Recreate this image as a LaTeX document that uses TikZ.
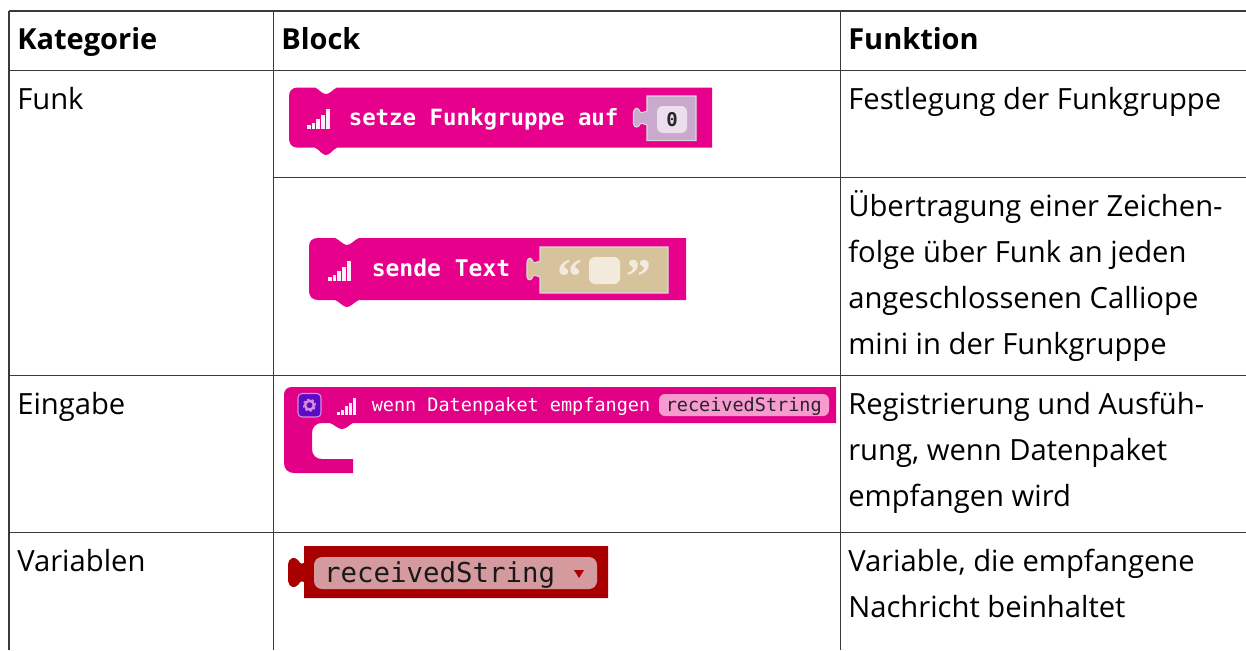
\documentclass[tikz,border=0pt]{standalone}
\usepackage{fontspec}
\setmainfont{Open Sans}
\newfontfamily\blockfont{DejaVu Sans Mono}
\newfontfamily\quotefont{Liberation Serif}
\newcommand{\pxsize}[2]{\fontsize{\dimexpr#1pt*3/4\relax}{\dimexpr#2pt*3/4\relax}\selectfont}
\definecolor{funk}{HTML}{E6008C}
\definecolor{funkb}{HTML}{E20087}
\definecolor{varred}{HTML}{A80000}
\definecolor{rule}{HTML}{3A3A3A}
\definecolor{numslot}{RGB}{201,169,205}
\definecolor{numfield}{RGB}{236,222,236}
\definecolor{txtslot}{RGB}{215,195,155}
\definecolor{txtfield}{RGB}{241,234,221}
\definecolor{gearbg}{RGB}{92,11,196}
\definecolor{gearfg}{RGB}{217,139,224}
\definecolor{pinkfield}{RGB}{247,154,208}
\definecolor{varfield}{RGB}{212,154,157}
\tikzset{
  x=0.75pt,y=-0.75pt,
  cell/.style={anchor=north west,inner sep=0pt,outer sep=0pt,align=left,font=\pxsize{29.2}{46},text=black},
  head/.style={cell,font=\pxsize{29}{46}\bfseries},
  grid/.style={draw=rule,line width=0.9pt},
  blocklabel/.style={anchor=base west,inner sep=0pt,text=white},
  slot/.style={draw=white!85!black,line width=0.8pt},
}
% signal bars: left x, bottom y, bar step
\newcommand{\sigbars}[3]{%
  \foreach \i/\h in {0/0.2,1/0.32,2/0.5,3/0.72,4/1}{%
    \fill[white!94!funk] ({#1+\i*#3},{#2}) rectangle ({#1+\i*#3+#3*0.8},{#2-20*#3/4.7*\h});
  }%
}
\begin{document}
\begin{tikzpicture}
\useasboundingbox (0,0) rectangle (1246,650);
\fill[white] (0,0) rectangle (1246,650);
% grid
\draw[grid] (9,11) -- (1246,11);
\draw[grid] (9,70.5) -- (1246,70.5);
\draw[grid] (273.5,177.5) -- (1246,177.5);
\draw[grid] (9,375.5) -- (1246,375.5);
\draw[grid] (9,532.5) -- (1246,532.5);
\draw[grid] (9,11) -- (9,650);
\draw[grid] (273.5,11) -- (273.5,650);
\draw[grid] (840.5,11) -- (840.5,650);
% text
\node[head] (hkat) at (17.3,16.8) {\strut Kategorie};
\node[head] (hblock) at (281.3,16.8) {\strut Block};
\node[head] (hfunk) at (848.3,16.8) {\strut Funktion};
\node[cell] (cfunk) at (17.3,76.8) {\strut Funk};
\node[cell] (ceing) at (17.3,381.8) {\strut Eingabe};
\node[cell] (cvar) at (17.3,538.8) {\strut Variablen};
\node[cell] (f1) at (848.3,76.8) {\strut Festlegung der Funkgruppe};
\node[cell] (f2) at (848.3,183.8) {\strut Übertragung einer Zeichen-\\\strut folge über Funk an jeden\\\strut angeschlossenen Calliope\\\strut mini in der Funkgruppe};
\node[cell] (f3) at (848.3,382.3) {\strut Registrierung und Ausfüh-\\\strut rung, wenn Datenpaket\\\strut empfangen wird};
\node[cell] (f4) at (848.3,539.3) {\strut Variable, die empfangene\\\strut Nachricht beinhaltet};
% block 1
\fill[funk] (298,87.5) -- (315,87.5) .. controls (320,90) and (322,94) .. (326,94) .. controls (330,94) and (332,90) .. (337,87.5) -- (712,87.5) -- (712,147.7) -- (337,147.7) .. controls (332,150) and (330,155) .. (326,155) .. controls (322,155) and (320,150) .. (315,147.7) -- (298,147.7) .. controls (292,147.7) and (289,144) .. (289,138.7) -- (289,96.5) .. controls (289,91) and (292,87.5) .. (298,87.5) -- cycle;
\sigbars{307}{129}{4.7}
\node[blocklabel,font=\blockfont\bfseries\pxsize{22.4}{26}] (b1t) at (348.5,125) {setze Funkgruppe auf};
\path[fill=numslot,slot] (647,96) -- (696,96) -- (696,140.7) -- (647,140.7) -- (647,125) .. controls (643,124) and (641,122) .. (640,124) .. controls (639,128) and (634,128) .. (633.5,124) -- (633.5,112) .. controls (634,107) and (639,107) .. (640,112) .. controls (641,114) and (643,112) .. (647,111) -- cycle;
\fill[rounded corners=4.5pt,fill=numfield] (657,106) rectangle (687,133);
\node[inner sep=0pt,font=\blockfont\bfseries\pxsize{19}{22},text=black!85] (b1v) at (672,119.5) {0};
% block 2
\fill[funk] (318,238) -- (335,238) .. controls (340,240) and (343,245) .. (347,245) .. controls (351,245) and (354,240) .. (359,238) -- (686,238) -- (686,300) -- (359,300) .. controls (354,302) and (351,307) .. (347,307) .. controls (343,307) and (340,302) .. (335,300) -- (318,300) .. controls (312,300) and (309,296) .. (309,291) -- (309,247) .. controls (309,241) and (312,238) .. (318,238) -- cycle;
\sigbars{328}{281}{4.7}
\node[blocklabel,font=\blockfont\bfseries\pxsize{23}{26}] (b2t) at (371.5,276) {sende Text};
\path[fill=txtslot,slot] (540,247) -- (668,247) -- (668,293) -- (540,293) -- (540,277) .. controls (536,276) and (534,274) .. (533,276) .. controls (532,281) and (527.5,281) .. (527,277) -- (527,262) .. controls (527.5,257) and (532,257) .. (533,262) .. controls (534,264) and (536,262) .. (540,261) -- cycle;
\fill[rounded corners=4.5pt,fill=txtfield] (589,257) rectangle (620,284);
\node[inner sep=0pt,font=\quotefont\bfseries\pxsize{50}{50},text=txtfield,anchor=base] (b2l) at (569.5,293) {“};
\node[inner sep=0pt,font=\quotefont\bfseries\pxsize{50}{50},text=txtfield,anchor=base] (b2r) at (639,293) {”};
% block 3
\fill[funkb] (292,387) -- (836,387) -- (836,423) -- (353,423) .. controls (349,425) and (346,429) .. (342,429) .. controls (338,429) and (335,425) .. (330,423) -- (322,423) .. controls (316,423) and (312,427) .. (312,433) -- (312,449) .. controls (312,455) and (316,459) .. (322,459) -- (353,459) -- (353,473) -- (294,473) .. controls (288,473) and (284,469) .. (284,463) -- (284,395) .. controls (284,390) and (287,387) .. (292,387) -- cycle;
\fill[rounded corners=3pt,fill=gearbg,draw=gearfg,line width=0.8pt] (298,393.5) rectangle (321,417);
\draw[gearfg,line width=1.8pt] (309.5,405.2) circle[radius=3.3pt];
\draw[gearfg,line width=1pt,dash pattern=on 1.7pt off 1.75pt] (309.5,405.2) circle[radius=4.4pt];
\sigbars{337}{415}{4}
\node[blocklabel,font=\blockfont\pxsize{18.5}{22}] (b3t) at (371.5,411) {wenn Datenpaket empfangen};
\fill[rounded corners=4.5pt,fill=pinkfield] (659,394) rectangle (829,416);
\node[anchor=base west,inner sep=0pt,font=\blockfont\pxsize{18.5}{22},text=black!85] (b3v) at (665.5,411) {receivedString};
% block 4
\fill[varred] (304,546) -- (608,546) -- (608,598) -- (304,598) -- (304,582) .. controls (300,580) and (300,583) .. (298,585) .. controls (294,589) and (289,587) .. (288,581) -- (288,564) .. controls (289,558) and (294,556) .. (298,560) .. controls (300,562) and (300,565) .. (304,563) -- cycle;
\fill[rounded corners=6pt,fill=varfield] (314,557) rectangle (597,589);
\node[anchor=base west,inner sep=0pt,font=\blockfont\pxsize{27.4}{32},text=black!90] (b4t) at (323.8,582) {receivedString};
\fill[varred] (574,570) -- (584,570) -- (579,578) -- cycle;
\end{tikzpicture}
\end{document}
